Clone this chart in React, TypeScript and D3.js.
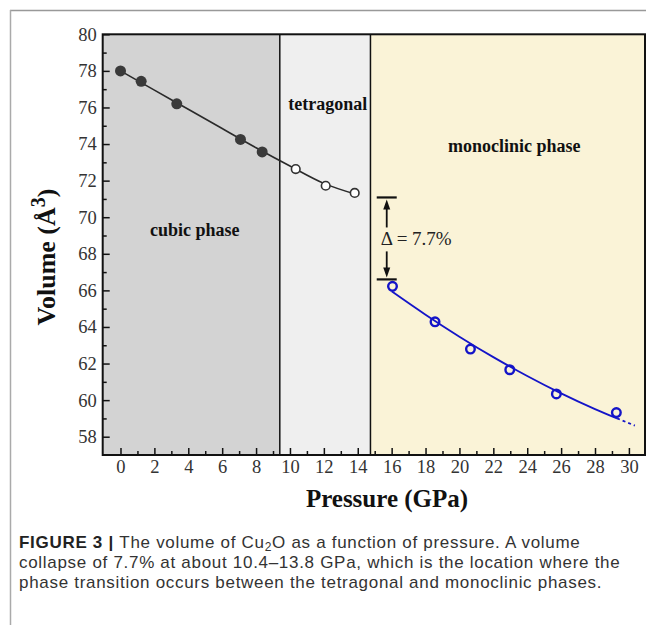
import React, { useEffect, useRef } from "react";
import * as d3 from "d3";

// measured points (GPa, Å^3)
const cubicP = [0, 1.22, 3.32, 7.08, 8.36];
const cubicV = [78.0, 77.43, 76.2, 74.25, 73.57];
const tetraP = [10.34, 12.11, 13.82];
const tetraV = [72.63, 71.72, 71.33];
const monoP = [16.05, 18.56, 20.65, 22.97, 25.72, 29.26];
const monoV = [66.22, 64.28, 62.79, 61.66, 60.34, 59.32];

// fitted curves
const fitLowP = [0, 2, 4, 6, 8, 10, 12, 13.9];
const fitLowV = [78.0, 76.95, 75.9, 74.85, 73.8, 72.8, 71.85, 71.25];
const fitHighP = [16, 18, 20, 22, 24, 26, 28, 29.3];
const fitHighV = [65.95, 64.67, 63.47, 62.35, 61.32, 60.37, 59.51, 59.0];
const extrapP = [29.3, 30.35];
const extrapV = [59.0, 58.61];

// phase regions
const phaseNames = ["cubic phase", "tetragonal", "monoclinic phase"];
const phaseBounds = [-1.05, 9.4, 14.75, 30.95];
const phaseColors = ["#d3d3d3", "#efefef", "#faf3d7"];

const deltaTop = 71.08;
const deltaBottom = 66.6;
const deltaText = "Δ = 7.7%";

const xTicks = d3.range(0, 31, 2);
const xMinor = d3.range(1, 31, 2);
const yTicks = d3.range(58, 81, 2);
const yMinor = d3.range(59, 80, 2);

const W = 646;
const H = 625;
const serif = "'Liberation Serif', 'Times New Roman', serif";
const sans = "'Liberation Sans', Arial, sans-serif";

const Chart = () => {
  const ref = useRef<SVGSVGElement>(null);

  useEffect(() => {
    const svg = d3.select(ref.current);
    svg.selectAll("*").remove();

    const left = 102.7,
      right = 645,
      top = 34.3,
      bottom = 455;

    const x = d3.scaleLinear().domain([-1.05, 30.95]).range([left, right]);
    const y = d3.scaleLinear().domain([57, 80]).range([bottom, top]);

    // outer figure frame
    svg.append("line").attr("x1", 10).attr("x2", W).attr("y1", 10.5).attr("y2", 10.5)
      .attr("stroke", "#999").attr("stroke-width", 1.5);
    svg.append("line").attr("x1", 10.5).attr("x2", 10.5).attr("y1", 10).attr("y2", H)
      .attr("stroke", "#aaa").attr("stroke-width", 1.5);

    // phase backgrounds
    svg.selectAll(".phase")
      .data(phaseNames)
      .join("rect")
      .attr("x", (d, i) => x(phaseBounds[i]))
      .attr("y", top)
      .attr("width", (d, i) => x(phaseBounds[i + 1]) - x(phaseBounds[i]))
      .attr("height", bottom - top)
      .attr("fill", (d, i) => phaseColors[i]);

    // dividers
    svg.selectAll(".divider")
      .data(phaseBounds.slice(1, 3))
      .join("line")
      .attr("x1", (d) => x(d))
      .attr("x2", (d) => x(d))
      .attr("y1", top)
      .attr("y2", bottom)
      .attr("stroke", "#111")
      .attr("stroke-width", 1.5);

    // ticks
    const xAxis = d3.axisBottom(x).tickValues(xTicks).tickSizeInner(-7).tickSizeOuter(0).tickPadding(5);
    const gx = svg.append("g").attr("transform", `translate(0,${bottom})`).call(xAxis);
    const xAxisMinor = d3.axisBottom(x).tickValues(xMinor).tickSizeInner(-4).tickSizeOuter(0).tickFormat(() => "");
    const gx2 = svg.append("g").attr("transform", `translate(0,${bottom})`).call(xAxisMinor);

    const yAxis = d3.axisLeft(y).tickValues(yTicks).tickSizeInner(-7).tickSizeOuter(0).tickPadding(6);
    const gy = svg.append("g").attr("transform", `translate(${left},0)`).call(yAxis);
    const yAxisMinor = d3.axisLeft(y).tickValues(yMinor).tickSizeInner(-4).tickSizeOuter(0).tickFormat(() => "");
    const gy2 = svg.append("g").attr("transform", `translate(${left},0)`).call(yAxisMinor);

    [gx, gx2, gy, gy2].forEach((g) => {
      g.select(".domain").remove();
      g.selectAll("line").attr("stroke", "#111").attr("stroke-width", 1.5);
      g.selectAll("text").attr("font-family", serif).attr("font-size", 18.5).attr("fill", "#333");
    });

    // plot frame
    svg.append("rect")
      .attr("x", left).attr("y", top)
      .attr("width", right - left).attr("height", bottom - top)
      .attr("fill", "none").attr("stroke", "#111").attr("stroke-width", 2);

    const line = d3.line<number>()
      .x((d) => x(d))
      .curve(d3.curveMonotoneX);

    // low pressure fit
    svg.append("path")
      .attr("d", line.y((d, i) => y(fitLowV[i]))(fitLowP))
      .attr("fill", "none").attr("stroke", "#2a2a2a").attr("stroke-width", 1.6);

    svg.append("path")
      .attr("d", line.y((d, i) => y(fitHighV[i]))(fitHighP))
      .attr("fill", "none").attr("stroke", "#1414c8").attr("stroke-width", 1.8);

    svg.append("path")
      .attr("d", line.y((d, i) => y(extrapV[i]))(extrapP))
      .attr("fill", "none").attr("stroke", "#1414c8").attr("stroke-width", 1.8)
      .attr("stroke-dasharray", "3,3");

    // points
    svg.selectAll(".cubic")
      .data(cubicP)
      .join("circle")
      .attr("cx", (d) => x(d))
      .attr("cy", (d, i) => y(cubicV[i]))
      .attr("r", 5.5)
      .attr("fill", "#3a3a3a");

    svg.selectAll(".tetra")
      .data(tetraP)
      .join("circle")
      .attr("cx", (d) => x(d))
      .attr("cy", (d, i) => y(tetraV[i]))
      .attr("r", 4.3)
      .attr("fill", "#fff")
      .attr("stroke", "#333")
      .attr("stroke-width", 1.6);

    svg.selectAll(".mono")
      .data(monoP)
      .join("circle")
      .attr("cx", (d) => x(d))
      .attr("cy", (d, i) => y(monoV[i]))
      .attr("r", 4.3)
      .attr("fill", "none")
      .attr("stroke", "#1414c8")
      .attr("stroke-width", 2.4);

    // phase labels
    const labelPos = [
      [4.38, 68.96],
      [12.23, 75.86],
      [23.23, 73.56],
    ];
    svg.selectAll(".plabel")
      .data(phaseNames)
      .join("text")
      .attr("x", (d, i) => x(labelPos[i][0]))
      .attr("y", (d, i) => y(labelPos[i][1]))
      .attr("text-anchor", "middle")
      .attr("font-family", serif)
      .attr("font-weight", "bold")
      .attr("font-size", 18)
      .attr("fill", "#111")
      .text((d) => d);

    // volume collapse marker
    const dp = 15.71;
    const cx = x(dp);
    const g = svg.append("g").attr("stroke", "#111").attr("stroke-width", 1.8);
    g.append("line").attr("x1", cx - 10).attr("x2", cx + 10).attr("y1", y(deltaTop)).attr("y2", y(deltaTop)).attr("stroke-width", 2.2);
    g.append("line").attr("x1", cx - 10).attr("x2", cx + 10).attr("y1", y(deltaBottom)).attr("y2", y(deltaBottom)).attr("stroke-width", 2.2);
    g.append("line").attr("x1", cx).attr("x2", cx).attr("y1", y(deltaTop) + 8).attr("y2", y(deltaTop) + 30);
    g.append("line").attr("x1", cx).attr("x2", cx).attr("y1", y(deltaBottom) - 8).attr("y2", y(deltaBottom) - 28);
    svg.append("path")
      .attr("d", `M${cx},${y(deltaTop) + 2}L${cx - 3.5},${y(deltaTop) + 12}L${cx + 3.5},${y(deltaTop) + 12}Z`)
      .attr("fill", "#111");
    svg.append("path")
      .attr("d", `M${cx},${y(deltaBottom) - 2}L${cx - 3.5},${y(deltaBottom) - 12}L${cx + 3.5},${y(deltaBottom) - 12}Z`)
      .attr("fill", "#111");
    svg.append("text")
      .attr("x", cx - 6)
      .attr("y", (y(deltaTop) + y(deltaBottom)) / 2 + 7)
      .attr("font-family", serif)
      .attr("font-size", 19)
      .attr("fill", "#222")
      .text(deltaText);

    // axis titles
    svg.append("text")
      .attr("x", 387)
      .attr("y", 507)
      .attr("text-anchor", "middle")
      .attr("font-family", serif)
      .attr("font-weight", "bold")
      .attr("font-size", 25)
      .attr("fill", "#111")
      .text("Pressure (GPa)");

    const yl = svg.append("text")
      .attr("transform", "translate(55,257) rotate(-90)")
      .attr("text-anchor", "middle")
      .attr("font-family", serif)
      .attr("font-weight", "bold")
      .attr("font-size", 26)
      .attr("fill", "#111");
    yl.append("tspan").text("Volume (Å");
    yl.append("tspan").attr("dy", -10).attr("font-size", 20).text("3");
    yl.append("tspan").attr("dy", 10).text(")");

    // caption
    const cap = svg.append("g").attr("font-family", sans).attr("font-size", 17)
      .attr("letter-spacing", 0.7).attr("fill", "#333");
    const l1 = cap.append("text").attr("x", 19).attr("y", 548);
    l1.append("tspan").attr("font-weight", "bold").attr("fill", "#222").text("FIGURE 3 | ");
    l1.append("tspan").text("The volume of Cu");
    l1.append("tspan").attr("font-size", 12).attr("dy", 3).text("2");
    l1.append("tspan").attr("dy", -3).text("O as a function of pressure. A volume");
    cap.append("text").attr("x", 19).attr("y", 568)
      .text("collapse of 7.7% at about 10.4–13.8 GPa, which is the location where the");
    cap.append("text").attr("x", 19).attr("y", 588)
      .text("phase transition occurs between the tetragonal and monoclinic phases.");
  }, []);

  return <svg ref={ref} width={W} height={H} style={{ display: "block" }}></svg>;
};

export default function App() {
  return (
    <div>
      <style>{`body{margin:0;background:#fff}`}</style>
      <Chart />
    </div>
  );
}
